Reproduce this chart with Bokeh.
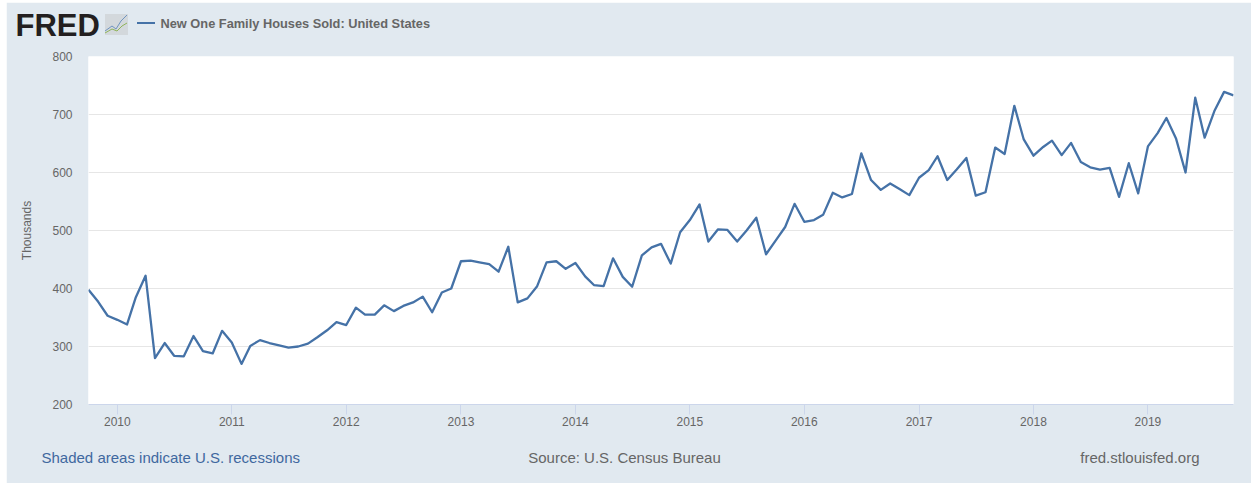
from datetime import datetime
from bokeh.embed import file_html
from bokeh.layouts import column
from bokeh.resources import INLINE
from bokeh.plotting import figure
from bokeh.models import Label, FixedTicker, DatetimeTickFormatter, Range1d, Div

start_year, start_month = 2009, 10
values = [398, 377, 353,
          346, 338, 385, 422, 280, 306, 284, 283, 318, 292, 288, 327,
          307, 270, 301, 311, 306, 302, 298, 300, 305, 316, 328, 342,
          337, 367, 355, 355, 371, 361, 370, 376, 386, 359, 393, 400,
          447, 448, 445, 442, 429, 472, 376, 383, 404, 445, 447, 434,
          444, 421, 406, 404, 452, 420, 403, 457, 471, 477, 443, 497,
          518, 545, 481, 502, 501, 481, 500, 522, 459, 482, 506, 546,
          515, 518, 527, 565, 557, 563, 633, 587, 570, 581, 571, 561,
          591, 604, 628, 587, 605, 625, 560, 566, 643, 632, 715, 657,
          629, 644, 655, 630, 651, 618, 609, 605, 608, 558, 616, 564,
          645, 668, 694, 658, 600, 729, 660, 706, 739, 733]
dates = [datetime(start_year + (start_month - 1 + i) // 12, (start_month - 1 + i) % 12 + 1, 1)
         for i in range(len(values))]
year_ticks = [2010, 2011, 2012, 2013, 2014, 2015, 2016, 2017, 2018, 2019]
y_ticks = [200, 300, 400, 500, 600, 700, 800]
y_title = "Thousands"
series_name = "New One Family Houses Sold: United States"

BG = "#e1e9f0"
W, H = 1245, 481
p = figure(width=W, height=H, x_axis_type="datetime", output_backend="svg", toolbar_location=None,
           x_range=Range1d(dates[0], dates[-1]), y_range=Range1d(200, 800),
           min_border_left=82, min_border_right=18, min_border_top=54, min_border_bottom=79,
           background_fill_color="white", border_fill_color=BG, outline_line_color=None,
           margin=(2, 0, 0, 6))

p.line(dates, values, line_color="#4572a7", line_width=2.3, line_join="round")

p.xaxis.ticker = FixedTicker(ticks=[datetime(y, 1, 1).timestamp() * 1000 for y in year_ticks])
p.xaxis.formatter = DatetimeTickFormatter(years="%Y", months="%Y", days="%Y", hours="%Y")
p.xaxis.axis_line_color = "#ccd6eb"
p.xaxis.major_tick_line_color = "#ccd6eb"
p.xaxis.major_tick_in = 0
p.xaxis.major_tick_out = 10
p.xaxis.minor_tick_line_color = None
p.xaxis.major_label_text_font = "Liberation Sans"
p.xaxis.major_label_text_font_size = "12px"
p.xaxis.major_label_text_color = "#666666"
p.xaxis.major_label_standoff = 2

p.yaxis.ticker = FixedTicker(ticks=y_ticks)
p.yaxis.axis_line_color = None
p.yaxis.major_tick_line_color = None
p.yaxis.minor_tick_line_color = None
p.yaxis.major_label_text_font = "Liberation Sans"
p.yaxis.major_label_text_font_size = "12px"
p.yaxis.major_label_text_color = "#666666"
p.yaxis.major_label_standoff = 10
p.yaxis.axis_label = y_title
p.yaxis.axis_label_text_font = "Liberation Sans"
p.yaxis.axis_label_text_font_style = "normal"
p.yaxis.axis_label_text_font_size = "12px"
p.yaxis.axis_label_text_color = "#666666"
p.yaxis.axis_label_standoff = 15

p.xgrid.visible = False
p.ygrid.grid_line_color = "#e6e6e6"
p.ygrid.grid_line_width = 1


def txt(side, text, x, y, size, color, style="normal", align="left"):
    p.add_layout(Label(x=x - 88, y=y, x_units="screen", y_units="screen", text=text,
                       text_font="Liberation Sans", text_font_size=size, text_color=color,
                       text_font_style=style, text_align=align, text_baseline="middle"), side)


txt("above", series_name, 160, 33, "12.8px", "#666666", "bold")
txt("above", "FRED", 15, 16, "31px", "#231f20", "bold")
txt("below", "Shaded areas indicate U.S. recessions", 41, -12, "15px", "#3f689f")
txt("below", "Source: U.S. Census Bureau", 624, 5, "15px", "#666666", align="center")
txt("below", "fred.stlouisfed.org", 1199, 22, "15px", "#666666", align="right")

# Logo icon and legend key: decoration only, no chart data.
decor = Div(
    text=('<svg xmlns="http://www.w3.org/2000/svg" width="50" height="21" style="display:block">'
          '<rect x="0" y="0" width="23" height="21" fill="#d3d8dc"/>'
          '<polyline points="0,17 7,12 11,15 16,7 22,1" fill="none" stroke="#6f94c0" stroke-width="1"/>'
          '<polyline points="0,19 7,15 12,17 17,12 22,9" fill="none" stroke="#8fb35a" stroke-width="1"/>'
          '<rect x="32" y="8" width="18" height="2" fill="#4572a7"/>'
          '</svg>'),
    width=50, height=21, margin=0,
    styles={"position": "absolute", "left": "105px", "top": "14px"})

open("out.html", "w").write(file_html(column(p, decor), INLINE))
